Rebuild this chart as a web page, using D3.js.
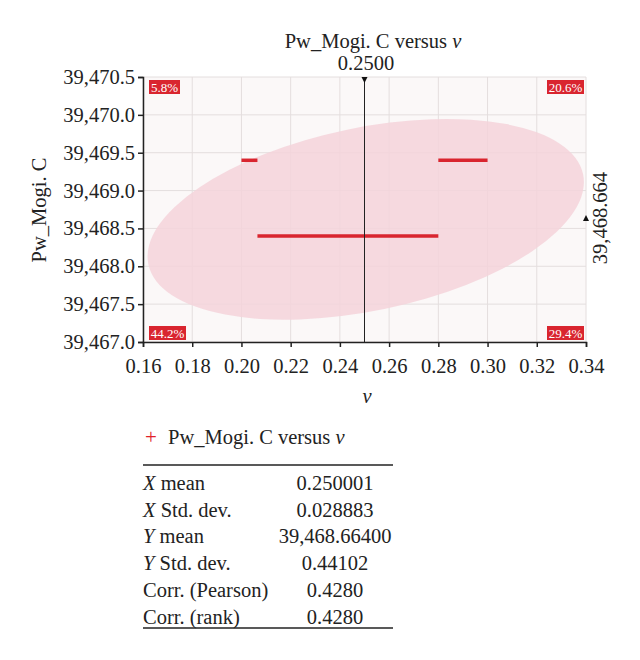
<!DOCTYPE html>
<html><head><meta charset="utf-8">
<script src="https://cdn.jsdelivr.net/npm/d3@7"></script>
<style>body{margin:0;background:#fff}svg text{font-family:"Liberation Serif","DejaVu Serif",serif;fill:#222}</style>
</head><body><svg id="c" width="640" height="660"></svg>
<script>
const xTicks=[0.16,0.18,0.20,0.22,0.24,0.26,0.28,0.30,0.32,0.34];
const yTicks=[39467.0,39467.5,39468.0,39468.5,39469.0,39469.5,39470.0,39470.5];
const segX1=[0.200,0.2065,0.280];
const segX2=[0.2065,0.280,0.300];
const segY=[39469.4,39468.4,39469.4];
const quadLabels=["5.8%","20.6%","44.2%","29.4%"];
const quadPos=["tl","tr","bl","br"];
const ellipse={cx:0.2505,cy:39468.62,rx:0.0902,ry:1.21,angleDeg:-11.7};
const statNames=[["X"," mean"],["X"," Std. dev."],["Y"," mean"],["Y"," Std. dev."],["","Corr. (Pearson)"],["","Corr. (rank)"]];
const statValues=["0.250001","0.028883","39,468.66400","0.44102","0.4280","0.4280"];

const FS=20.5;
const svg=d3.select("#c");
const L=143,R=586,T=77,B=342;
const x=d3.scaleLinear().domain([0.16,0.34]).range([L,R]);
const y=d3.scaleLinear().domain([39467,39470.5]).range([B,T]);
svg.append("rect").attr("x",L).attr("y",T).attr("width",R-L).attr("height",B-T).attr("fill","#fbf8f8");
const g=svg.append("g");
xTicks.forEach(t=>g.append("line").attr("x1",x(t)).attr("x2",x(t)).attr("y1",T).attr("y2",B).attr("stroke","#e4dede"));
yTicks.forEach(t=>g.append("line").attr("x1",L).attr("x2",R).attr("y1",y(t)).attr("y2",y(t)).attr("stroke","#e4dede"));
const pxRx=x(ellipse.cx+ellipse.rx)-x(ellipse.cx), pxRy=y(ellipse.cy)-y(ellipse.cy+ellipse.ry);
svg.append("ellipse").attr("cx",x(ellipse.cx)).attr("cy",y(ellipse.cy)).attr("rx",pxRx).attr("ry",pxRy)
 .attr("transform",`rotate(${ellipse.angleDeg},${x(ellipse.cx)},${y(ellipse.cy)})`).attr("fill","#f5d3da").attr("opacity",0.85);
segY.forEach((v,i)=>svg.append("line").attr("x1",x(segX1[i])).attr("x2",x(segX2[i])).attr("y1",y(v)).attr("y2",y(v)).attr("stroke","#d9252f").attr("stroke-width",3.5));
svg.append("line").attr("x1",x(0.25)).attr("x2",x(0.25)).attr("y1",T).attr("y2",B).attr("stroke","#222").attr("stroke-width",1);
svg.append("path").attr("d",`M${x(0.25)-3},${T}L${x(0.25)+3},${T}L${x(0.25)},${T+6}Z`).attr("fill","#111");
svg.append("g").attr("transform",`translate(0,${B})`).call(d3.axisBottom(x).tickValues(xTicks).tickFormat(d3.format(".2f")).tickSize(5))
 .call(a=>{a.selectAll("text").attr("font-size",FS).attr("dy","1.1em");});
svg.append("g").attr("transform",`translate(${L},0)`).call(d3.axisLeft(y).tickValues(yTicks).tickFormat(d=>d3.format(",.1f")(d)).tickSize(5))
 .call(a=>{a.selectAll("text").attr("font-size",FS);});
svg.selectAll(".domain").attr("stroke","#222").attr("stroke-width",1.5);
svg.selectAll(".tick line").attr("stroke","#222").attr("stroke-width",1.5);
quadPos.forEach((p,i)=>{
 const w=p=="tl"?31:37, lx=p[1]=="l"?L+6:R-w-2, ly=p[0]=="t"?T+3:B-16;
 svg.append("rect").attr("x",lx).attr("y",ly).attr("width",w).attr("height",14).attr("fill","#d9252f");
 svg.append("text").attr("x",lx+w/2).attr("y",ly+11.5).attr("text-anchor","middle").attr("font-size",13).style("fill","#fff").text(quadLabels[i]);
});
svg.append("text").attr("x",373).attr("y",48).attr("text-anchor","middle").attr("font-size",FS).html('Pw_Mogi. C versus <tspan font-style="italic">ν</tspan>');
svg.append("text").attr("x",366).attr("y",70).attr("text-anchor","middle").attr("font-size",FS).text("0.2500");
svg.append("text").attr("transform","translate(46,210) rotate(-90)").attr("text-anchor","middle").attr("font-size",FS).text("Pw_Mogi. C");
svg.append("text").attr("x",367).attr("y",403).attr("text-anchor","middle").attr("font-size",FS).attr("font-style","italic").text("ν");
svg.append("text").attr("transform","translate(607,218) rotate(-90)").attr("text-anchor","middle").attr("font-size",FS).text("39,468.664");
svg.append("path").attr("d",`M${R-3},${y(39468.664)+5}L${R+3},${y(39468.664)+5}L${R},${y(39468.664)-1}Z`).attr("fill","#111");
svg.append("text").attr("x",145).attr("y",444).attr("font-size",21).style("fill","#e0202a").text("+");
svg.append("text").attr("x",168).attr("y",444).attr("font-size",FS).html('Pw_Mogi. C versus <tspan font-style="italic">ν</tspan>');
svg.append("line").attr("x1",143).attr("x2",393).attr("y1",465).attr("y2",465).attr("stroke","#222").attr("stroke-width",1.5);
svg.append("line").attr("x1",143).attr("x2",393).attr("y1",628).attr("y2",628).attr("stroke","#222").attr("stroke-width",1.5);
statNames.forEach((n,i)=>{
 const yy=490+i*26.7;
 const t=svg.append("text").attr("x",143).attr("y",yy).attr("font-size",FS);
 if(n[0]) t.append("tspan").attr("font-style","italic").text(n[0]);
 t.append("tspan").text(n[1]);
 svg.append("text").attr("x",335).attr("y",yy).attr("text-anchor","middle").attr("font-size",FS).text(statValues[i]);
});
</script></body></html>
